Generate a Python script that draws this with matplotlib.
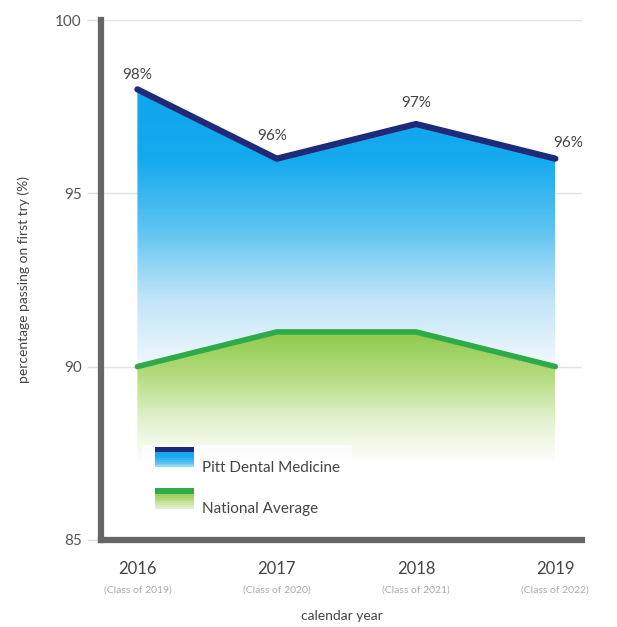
import numpy as np
import matplotlib.pyplot as plt
from matplotlib.colors import LinearSegmentedColormap
from matplotlib.patches import Rectangle
from matplotlib.legend_handler import HandlerBase

plt.rcParams['font.family'] = ['Lato', 'DejaVu Sans']

years = [2016, 2017, 2018, 2019]
classes = ["(Class of 2019)", "(Class of 2020)", "(Class of 2021)", "(Class of 2022)"]
pitt = [98, 96, 97, 96]
national = [90, 91, 91, 90]
pitt_labels = ["98%", "96%", "97%", "96%"]

navy = "#1f2a78"
green = "#2eaa48"
blue_cmap = LinearSegmentedColormap.from_list("b", ["#f2f9fd", "#bfe4f8", "#5cc3f2", "#14aaee", "#12a6ec"])
green_cmap = LinearSegmentedColormap.from_list("g", ["#ffffff", "#e4f2cf", "#b5dc80", "#8fca4c"])

fig = plt.figure(figsize=(6.17, 6.27), dpi=100)
ax = fig.add_axes([0.164, 0.139, 0.779, 0.829])
ax.set_xlim(2015.74, 2019.19)
ax.set_ylim(85, 100)

for s in ["top", "right"]:
    ax.spines[s].set_visible(False)
for s in ["left", "bottom"]:
    ax.spines[s].set_color("#666666")
    ax.spines[s].set_linewidth(4.5)
ax.yaxis.grid(True, color="#e3e3e3", lw=1)
ax.set_axisbelow(True)
ax.set_yticks([85, 90, 95, 100])
ax.tick_params(axis="y", length=10, color="#dddddd", width=1, labelsize=11, labelcolor="#555555", pad=4)
ax.tick_params(axis="x", length=0, pad=15)
ax.set_xticks(years)
ax.set_xticklabels([str(y) for y in years], fontsize=12, color="#444444")
for x, c in zip(years, classes):
    ax.annotate(c, (x, 85), xytext=(0, -36), textcoords="offset points", ha="center",
                va="center", fontsize=7.5, color="#aaaaaa")
ax.set_xlabel("calendar year", fontsize=10, color="#444444", labelpad=24)
ax.set_ylabel("percentage passing on first try (%)", fontsize=10, color="#444444", labelpad=18)

# blue gradient area between the two lines
fb = ax.fill_between(years, national, pitt, color="none", lw=0)
grad = np.linspace(0, 1, 256).reshape(-1, 1)
im = ax.imshow(grad, cmap=blue_cmap, origin="lower", aspect="auto",
               extent=[years[0], years[-1], 90, 98], zorder=1)
im.set_clip_path(fb.get_paths()[0], transform=ax.transData)

# green gradient area below the national line
fg = ax.fill_between(years, 85, national, color="none", lw=0)
grad2 = np.clip((np.linspace(85, 91, 256) - 87.2) / 3.8, 0, 1).reshape(-1, 1)
im2 = ax.imshow(grad2, cmap=green_cmap, origin="lower", aspect="auto",
                extent=[years[0], years[-1], 85, 91], zorder=1, vmin=0, vmax=1)
im2.set_clip_path(fg.get_paths()[0], transform=ax.transData)

ax.plot(years, pitt, color=navy, lw=4.5, solid_joinstyle="round", solid_capstyle="round", zorder=3)
ax.plot(years, national, color=green, lw=4, solid_joinstyle="round", solid_capstyle="round", zorder=3)

offsets = [(0, 5), (-3, 11), (0, 10), (9, 6)]
for x, y, t, o in zip(years, pitt, pitt_labels, offsets):
    ax.annotate(t, (x, y), xytext=o, textcoords="offset points", ha="center",
                va="bottom", fontsize=11, color="#444444")


class GradHandle(HandlerBase):
    def __init__(self, top, cmap):
        super().__init__()
        self.top = top
        self.cmap = cmap

    def create_artists(self, legend, orig, xd, yd, w, h, fontsize, trans):
        arts = []
        n = 8
        for i in range(n):
            arts.append(Rectangle((xd, yd + h * i / n * 0.8), w, h * 0.8 / n + 0.3,
                                  facecolor=self.cmap(0.35 + 0.6 * i / n), lw=0, transform=trans))
        arts.append(Rectangle((xd, yd + h * 0.8), w, h * 0.3, facecolor=self.top, lw=0, transform=trans))
        return arts


h1 = Rectangle((0, 0), 1, 1)
h2 = Rectangle((0, 0), 1, 1)
leg = ax.legend([h1, h2], ["Pitt Dental Medicine", "National Average"],
                handler_map={h1: GradHandle(navy, blue_cmap), h2: GradHandle(green, green_cmap)},
                loc="lower left", bbox_to_anchor=(0.07, 0.005), frameon=True, fontsize=11,
                handlelength=2.6, handleheight=1.5, labelspacing=1.5, handletextpad=0.5,
                borderpad=0.8)
leg.get_frame().set_facecolor("white")
leg.get_frame().set_edgecolor("none")
leg.get_frame().set_alpha(0.75)
for t in leg.get_texts():
    t.set_color("#444444")

fig.savefig("out.png", dpi=100)
